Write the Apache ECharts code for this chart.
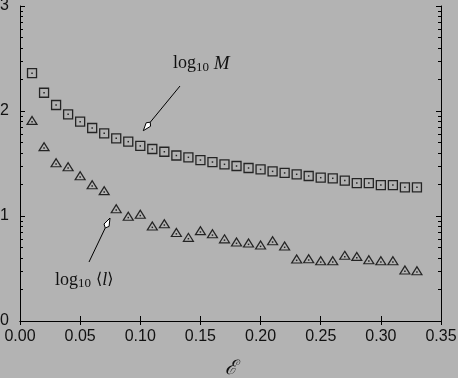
<!DOCTYPE html>
<html>
<head>
<meta charset="utf-8">
<script src="https://cdn.jsdelivr.net/npm/echarts@6/dist/echarts.min.js"></script>
<style>
html,body{margin:0;padding:0;background:#b3b3b3;}
#c{width:458px;height:378px;}
</style>
</head>
<body>
<div id="c"></div>
<script>
var eps = [0.01,0.02,0.03,0.04,0.05,0.06,0.07,0.08,0.09,0.10,0.11,0.12,0.13,0.14,0.15,0.16,0.17,0.18,0.19,0.20,0.21,0.22,0.23,0.24,0.25,0.26,0.27,0.28,0.29,0.30,0.31,0.32,0.33];
var logM = [2.36,2.174,2.057,1.968,1.898,1.838,1.787,1.740,1.708,1.667,1.638,1.612,1.576,1.559,1.533,1.514,1.492,1.476,1.457,1.444,1.425,1.410,1.397,1.381,1.365,1.359,1.337,1.314,1.314,1.295,1.295,1.273,1.273];
var logL = [1.898,1.648,1.495,1.457,1.371,1.286,1.229,1.057,0.985,1.004,0.892,0.914,0.830,0.784,0.848,0.818,0.770,0.740,0.730,0.711,0.752,0.702,0.578,0.581,0.561,0.562,0.613,0.603,0.571,0.562,0.562,0.473,0.467];
var xTicks = ['0.00','0.05','0.10','0.15','0.20','0.25','0.30','0.35'];
var yTicks = ['0','1','2','3'];
var minorMult = [2,3,4,5,6,7,8,9];

var minorVals = [];
for (var d = 0; d < 3; d++) minorMult.forEach(function(k){ minorVals.push(d + Math.log10(k)); });

function pairs(ys){ return eps.map(function(x,i){ return [x, ys[i]]; }); }

var chart = echarts.init(document.getElementById('c'), null, {renderer:'canvas'});

var lblFont = {color:'#111', fontFamily:'Liberation Sans', fontSize:16};

function arrow(tail, tip){
  var dx = tip[0]-tail[0], dy = tip[1]-tail[1];
  var len = Math.sqrt(dx*dx+dy*dy);
  var ux = dx/len, uy = dy/len, nx = -uy, ny = ux;
  var L = 11, W = 2.8;
  var base = [tip[0]-L*ux, tip[1]-L*uy];
  var side1 = [tip[0]-8*ux+W*nx, tip[1]-8*uy+W*ny];
  var side2 = [tip[0]-8*ux-W*nx, tip[1]-8*uy-W*ny];
  return [
    {type:'polyline', shape:{points:[tail, base]}, style:{stroke:'#000', lineWidth:1, fill:null}},
    {type:'polygon', shape:{points:[tip, side1, base, side2]}, style:{fill:'#fff', stroke:'#000', lineWidth:1}}
  ];
}

var option = {
  backgroundColor:'#b3b3b3',
  animation:false,
  grid:{left:20, right:17, top:6, bottom:57, containLabel:false, outerBoundsMode:'none'},
  xAxis:[
    {type:'value', position:'bottom', min:0, max:0.35, interval:0.05,
     axisLine:{show:true, lineStyle:{color:'#000', width:1}},
     axisTick:{show:true, inside:true, length:5, lineStyle:{color:'#000'}},
     axisLabel:Object.assign({margin:8, formatter:function(v){ return xTicks[Math.round(v/0.05)]; }}, lblFont),
     splitLine:{show:false},
     name:'ℰ', nameLocation:'middle', nameGap:38,
     nameTextStyle:{fontFamily:'DejaVu Serif', fontStyle:'italic', fontSize:20, color:'#111'}},
    {type:'value', position:'top', min:0, max:0.35, interval:0.05,
     axisLine:{show:true, lineStyle:{color:'#000', width:1}},
     axisTick:{show:true, inside:true, length:4, lineStyle:{color:'#000'}},
     axisLabel:{show:false}, splitLine:{show:false}}
  ],
  yAxis:[
    {type:'value', position:'left', min:0, max:3, interval:1,
     axisLine:{show:true, lineStyle:{color:'#000', width:1}},
     axisTick:{show:true, inside:true, length:5, lineStyle:{color:'#000'}},
     axisLabel:Object.assign({margin:11, formatter:function(v){ return yTicks[Math.round(v)]; }}, lblFont),
     splitLine:{show:false}},
    {type:'value', position:'left', min:0, max:3,
     axisLine:{show:false},
     axisTick:{show:true, inside:true, length:3, customValues:minorVals, lineStyle:{color:'#000'}},
     axisLabel:{show:false}, splitLine:{show:false}},
    {type:'value', position:'right', min:0, max:3, interval:1,
     axisLine:{show:true, lineStyle:{color:'#000', width:1}},
     axisTick:{show:true, inside:true, length:5, lineStyle:{color:'#000'}},
     axisLabel:{show:false}, splitLine:{show:false}},
    {type:'value', position:'right', min:0, max:3,
     axisLine:{show:false},
     axisTick:{show:true, inside:true, length:3, customValues:minorVals, lineStyle:{color:'#000'}},
     axisLabel:{show:false}, splitLine:{show:false}}
  ],
  series:[
    {type:'scatter', name:'M', data:pairs(logM), symbol:'rect', symbolSize:9,
     itemStyle:{color:'rgba(0,0,0,0)', borderColor:'#000', borderWidth:1.3}},
    {type:'scatter', name:'Mdot', data:pairs(logM), symbol:'rect', symbolSize:1.5,
     itemStyle:{color:'#000'}},
    {type:'scatter', name:'l', data:pairs(logL), symbol:'triangle', symbolSize:[10,8], symbolOffset:[0,-1.3],
     itemStyle:{color:'rgba(0,0,0,0)', borderColor:'#000', borderWidth:1.2}},
    {type:'scatter', name:'ldot', data:pairs(logL), symbol:'rect', symbolSize:1.5,
     itemStyle:{color:'#000'}}
  ],
  graphic:[].concat(
    arrow([180,86],[143.3,130.7]),
    arrow([89,262],[110,218]),
    [
      {type:'text', left:173, top:54, style:{
        text:'{r|log}{s|10}{i| M}',
        rich:{
          r:{fontFamily:'Liberation Serif', fontSize:18, fill:'#111'},
          s:{fontFamily:'Liberation Serif', fontSize:13, fill:'#111', padding:[8,0,0,0]},
          i:{fontFamily:'Liberation Serif', fontStyle:'italic', fontSize:19, fill:'#111'}
        }}},
      {type:'text', left:55, top:271, style:{
        text:'{r|log}{s|10}{i| ⟨}{j|l}{i|⟩}',
        rich:{
          r:{fontFamily:'Liberation Serif', fontSize:18, fill:'#111'},
          s:{fontFamily:'Liberation Serif', fontSize:13, fill:'#111', padding:[8,0,0,0]},
          i:{fontFamily:'DejaVu Serif', fontSize:16, fill:'#111'},
          j:{fontFamily:'Liberation Serif', fontStyle:'italic', fontSize:18, fill:'#111'}
        }}}
    ]
  )
};
chart.setOption(option);
</script>
</body>
</html>
